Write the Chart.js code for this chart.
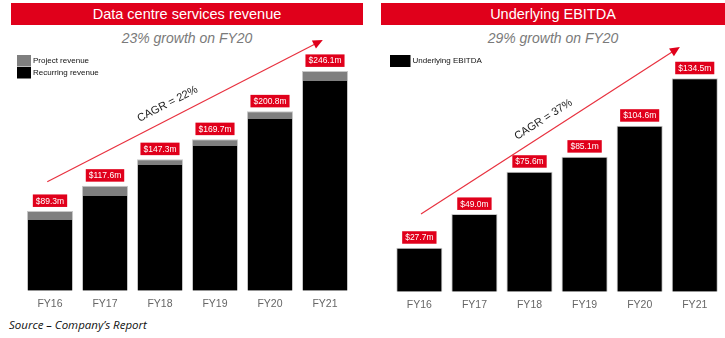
<!DOCTYPE html>
<html>
<head>
<meta charset="utf-8">
<script src="https://cdn.jsdelivr.net/npm/chart.js@4/dist/chart.umd.min.js"></script>
<style>
  html, body { margin:0; padding:0; background:#fff; }
  body { width:725px; height:338px; position:relative; overflow:hidden; font-family:"Liberation Sans", Arial, sans-serif; }
  .bar { position:absolute; top:3px; height:22px; background:#e0001b; color:#fff; font-size:14.5px; line-height:22px; text-align:center; }
  .sub { position:absolute; top:30px; font-size:14px; font-style:italic; color:#7a7a7a; text-align:center; line-height:17px; }
  .src { position:absolute; left:9px; top:317px; font-family:"Open Sans", sans-serif; font-style:italic; font-size:11.5px; color:#111; }
  canvas { position:absolute; top:0; }
</style>
</head>
<body>
<div class="bar" style="left:11px;width:352px;">Data centre services revenue</div>
<div class="bar" style="left:381px;width:344px;">Underlying EBITDA</div>
<div class="sub" style="left:11px;width:352px;">23% growth on FY20</div>
<div class="sub" style="left:381px;width:344px;">29% growth on FY20</div>
<div class="src">Source – Company’s Report</div>
<div style="position:absolute;left:0;top:0;width:362px;height:338px;"><canvas id="c1"></canvas></div>
<div style="position:absolute;left:362px;top:0;width:363px;height:338px;"><canvas id="c2"></canvas></div>
<script>
// ---- data ----
const years = ["FY16", "FY17", "FY18", "FY19", "FY20", "FY21"];
const recurringRevenue = [79.2, 106.0, 140.8, 162.0, 192.3, 234.8];
const projectRevenue = [10.1, 11.6, 6.5, 7.7, 8.5, 11.3];
const totalRevenueLabels = ["$89.3m", "$117.6m", "$147.3m", "$169.7m", "$200.8m", "$246.1m"];
const underlyingEbitda = [27.7, 49.0, 75.6, 85.1, 104.6, 134.5];
const ebitdaLabels = ["$27.7m", "$49.0m", "$75.6m", "$85.1m", "$104.6m", "$134.5m"];
const revenueCagr = "CAGR = 22%";
const ebitdaCagr = "CAGR = 37%";

const RED = '#e0001b';
const FONT = '"Liberation Sans", Arial, sans-serif';

function overlayPlugin(cfg) {
  return {
    id: 'overlay',
    afterDatasetsDraw(chart) {
      const ctx = chart.ctx;
      const xs = chart.scales.x, ys = chart.scales.y;
      // value labels
      ctx.save();
      ctx.font = '8.5px ' + FONT;
      ctx.textAlign = 'center';
      ctx.textBaseline = 'middle';
      const n = chart.data.labels.length;
      for (let i = 0; i < n; i++) {
        let total = 0;
        chart.data.datasets.forEach(d => total += d.data[i]);
        const x = xs.getPixelForValue(i);
        const yTop = ys.getPixelForValue(total);
        const txt = cfg.valueLabels[i];
        const w = ctx.measureText(txt).width + 6;
        const h = 12.5;
        const yb = yTop - 4;
        ctx.fillStyle = RED;
        ctx.fillRect(x - w / 2, yb - h, w, h);
        ctx.fillStyle = '#fff';
        ctx.fillText(txt, x, yb - h / 2 + 0.5);
      }
      // legend
      ctx.font = '8px ' + FONT;
      ctx.textAlign = 'left';
      const items = cfg.legendOrder.map(k => chart.data.datasets[k]);
      items.forEach((d, j) => {
        const y = cfg.legendY + j * cfg.legendStep;
        ctx.fillStyle = d.backgroundColor;
        ctx.fillRect(cfg.legendX, y, cfg.legendW, cfg.legendH);
        ctx.fillStyle = '#111';
        ctx.textBaseline = 'middle';
        ctx.fillText(d.label, cfg.legendX + cfg.legendW + 2, y + cfg.legendH / 2);
      });
      // CAGR arrow
      const a = cfg.arrow;
      const x1 = xs.getPixelForValue(a.from[0]), y1 = ys.getPixelForValue(a.from[1]);
      const x2 = xs.getPixelForValue(a.to[0]), y2 = ys.getPixelForValue(a.to[1]);
      const ang = Math.atan2(y2 - y1, x2 - x1);
      ctx.strokeStyle = '#e8313f';
      ctx.lineWidth = 1.2;
      ctx.beginPath();
      ctx.moveTo(x1, y1);
      ctx.lineTo(x2 - 7 * Math.cos(ang), y2 - 7 * Math.sin(ang));
      ctx.stroke();
      ctx.fillStyle = RED;
      ctx.beginPath();
      ctx.moveTo(x2, y2);
      ctx.lineTo(x2 - 10 * Math.cos(ang) + 4.5 * Math.sin(ang), y2 - 10 * Math.sin(ang) - 4.5 * Math.cos(ang));
      ctx.lineTo(x2 - 10 * Math.cos(ang) - 4.5 * Math.sin(ang), y2 - 10 * Math.sin(ang) + 4.5 * Math.cos(ang));
      ctx.closePath();
      ctx.fill();
      // CAGR text
      const t = a.textT;
      const tx = x1 + (x2 - x1) * t + a.textOff * Math.sin(ang);
      const ty = y1 + (y2 - y1) * t - a.textOff * Math.cos(ang);
      ctx.translate(tx, ty);
      ctx.rotate(ang);
      ctx.font = '11px ' + FONT;
      ctx.fillStyle = '#1a1a1a';
      ctx.textAlign = 'center';
      ctx.textBaseline = 'middle';
      ctx.fillText(a.text, 0, 0);
      ctx.restore();
    }
  };
}

function baseOptions(pad, ymax) {
  return {
    responsive: true,
    maintainAspectRatio: false,
    animation: false,
    layout: { padding: pad },
    plugins: { legend: { display: false }, tooltip: { enabled: false } },
    scales: {
      x: {
        stacked: true,
        grid: { display: false, drawTicks: false },
        border: { display: false },
        ticks: { color: '#666', font: { family: FONT, size: 10.5 }, padding: 7 },
        afterFit: s => { s.height = 25; }
      },
      y: { stacked: true, display: false, min: 0, max: ymax }
    }
  };
}

new Chart(document.getElementById('c1'), {
  type: 'bar',
  data: {
    labels: years,
    datasets: [
      { label: 'Recurring revenue', data: recurringRevenue, backgroundColor: '#000000',
        borderColor: '#c8c8c8', borderWidth: { left: 1, right: 1, top: 0, bottom: 0 },
        barPercentage: 0.92, categoryPercentage: 0.91 },
      { label: 'Project revenue', data: projectRevenue, backgroundColor: '#7f7f7f',
        borderColor: '#c8c8c8', borderWidth: { left: 1, right: 1, top: 1, bottom: 0 },
        barPercentage: 0.92, categoryPercentage: 0.91 }
    ]
  },
  options: baseOptions({ left: 22.5, right: 9.5, top: 40, bottom: 22.3 }, 280.7),
  plugins: [overlayPlugin({
    valueLabels: totalRevenueLabels,
    legendOrder: [1, 0], legendX: 17, legendY: 55, legendStep: 12, legendW: 14, legendH: 11.5,
    arrow: { from: [-0.05, 122], to: [4.96, 280.7], text: revenueCagr, textT: 0.46, textOff: 14 }
  })]
});

new Chart(document.getElementById('c2'), {
  type: 'bar',
  data: {
    labels: years,
    datasets: [
      { label: 'Underlying EBITDA', data: underlyingEbitda, backgroundColor: '#000000',
        borderColor: '#c8c8c8', borderWidth: 1,
        barPercentage: 0.92, categoryPercentage: 0.91 }
    ]
  },
  options: baseOptions({ left: 29.8, right: 2.7, top: 40, bottom: 21.3 }, 158.6),
  plugins: [overlayPlugin({
    valueLabels: ebitdaLabels,
    legendOrder: [0], legendX: 28, legendY: 55, legendStep: 12, legendW: 20.5, legendH: 12,
    arrow: { from: [0.03, 49], to: [4.73, 154.2], text: ebitdaCagr, textT: 0.5, textOff: 13 }
  })]
});
</script>
</body>
</html>
